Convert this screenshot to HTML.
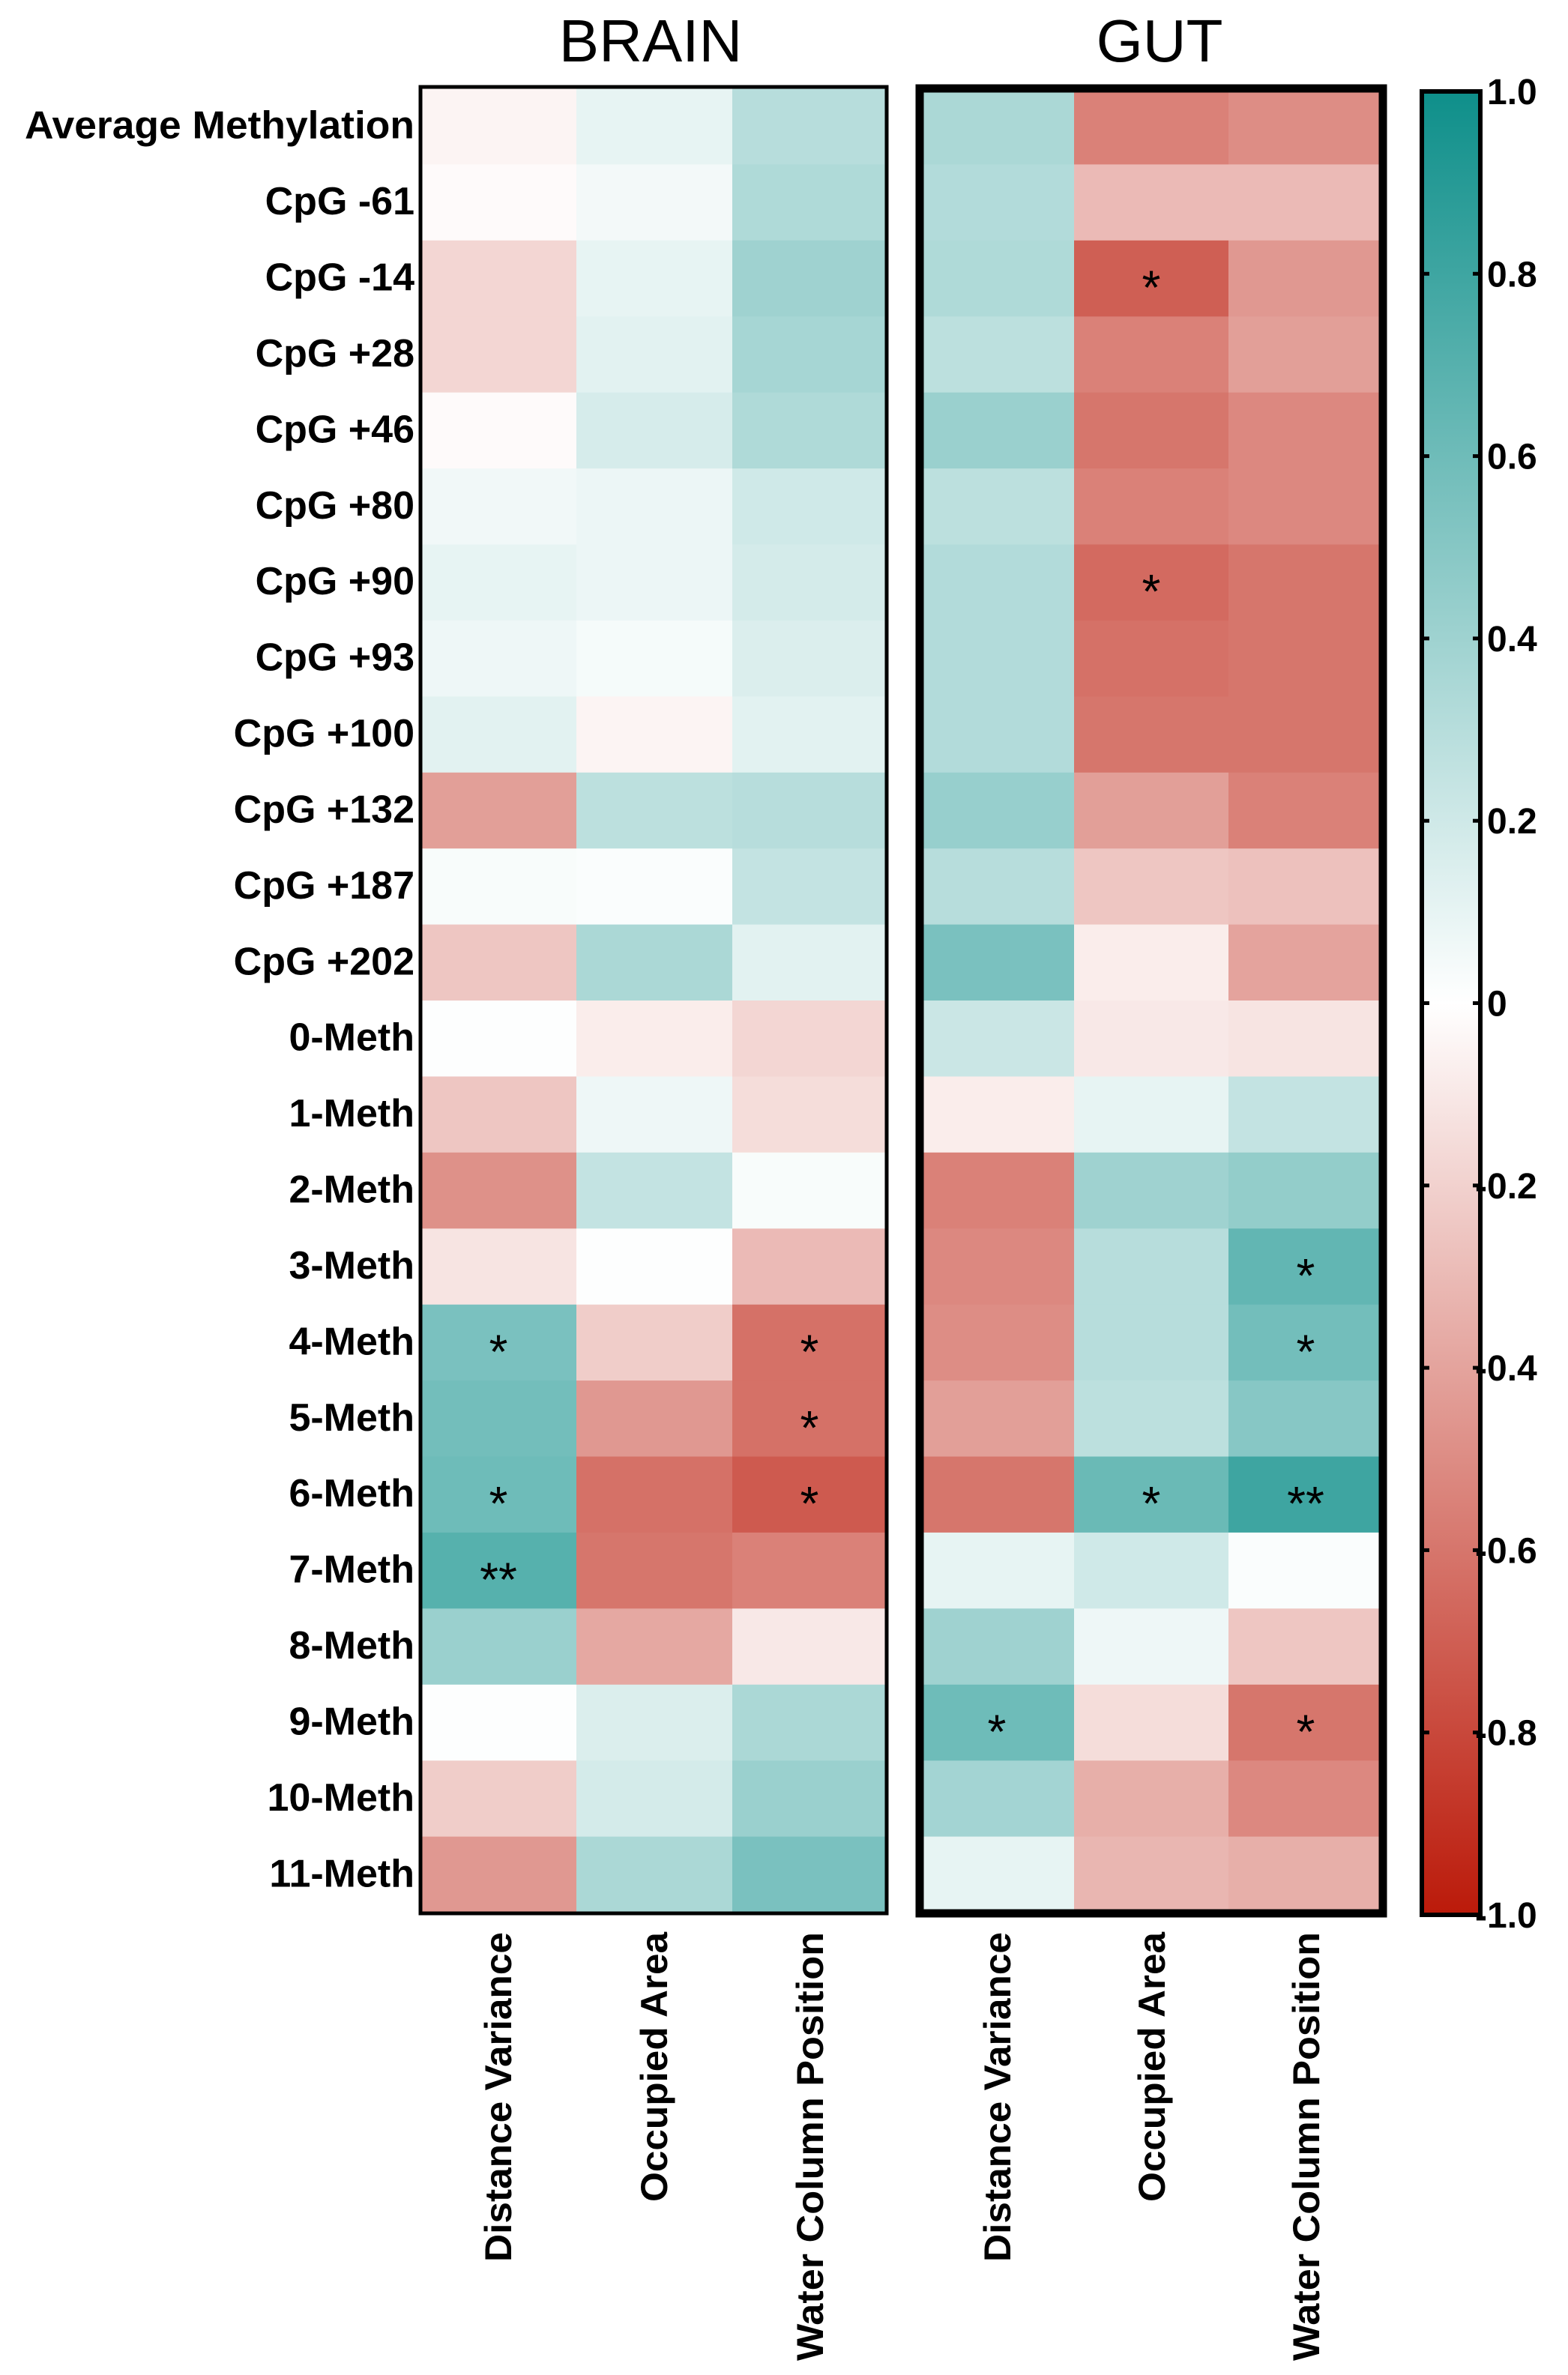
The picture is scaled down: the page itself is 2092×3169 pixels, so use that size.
<!DOCTYPE html>
<html><head><meta charset="utf-8"><style>
html,body{margin:0;padding:0;background:#fff;}
svg{display:block;}
text{font-family:"Liberation Sans",sans-serif;}
</style></head><body>
<svg id="s" width="2092" height="3169" xmlns="http://www.w3.org/2000/svg">
<defs><linearGradient id="cb" x1="0" y1="0" x2="0" y2="1">
<stop offset="0" stop-color="#0e8f8a"/><stop offset="0.5" stop-color="#ffffff"/><stop offset="1" stop-color="#bb1a0a"/></linearGradient></defs>
<text x="868" y="82" font-size="80" text-anchor="middle">BRAIN</text>
<text x="1547" y="82" font-size="80" text-anchor="middle">GUT</text>
<g id="cells"></g>
<rect x="561" y="116" width="622" height="2437" fill="none" stroke="#000" stroke-width="5"/>
<rect x="1227" y="118" width="618" height="2435" fill="none" stroke="#000" stroke-width="11"/>
<rect x="1897" y="122" width="78" height="2433" fill="url(#cb)" stroke="#000" stroke-width="6"/>
<g id="lab"></g>
</svg>
<script>
(function(){
var rows=["Average Methylation","CpG -61","CpG -14","CpG +28","CpG +46","CpG +80","CpG +90","CpG +93","CpG +100","CpG +132","CpG +187","CpG +202","0-Meth","1-Meth","2-Meth","3-Meth","4-Meth","5-Meth","6-Meth","7-Meth","8-Meth","9-Meth","10-Meth","11-Meth"];
var V=[[-0.05,0.1,0.3,0.35,-0.55,-0.5],[-0.02,0.05,0.33,0.32,-0.3,-0.3],[-0.18,0.1,0.4,0.33,-0.7,-0.45],[-0.18,0.12,0.37,0.28,-0.55,-0.42],[-0.02,0.17,0.33,0.42,-0.6,-0.52],[0.06,0.08,0.2,0.28,-0.55,-0.52],[0.1,0.08,0.18,0.32,-0.65,-0.6],[0.07,0.04,0.15,0.32,-0.62,-0.6],[0.12,-0.05,0.12,0.32,-0.6,-0.6],[-0.42,0.28,0.3,0.43,-0.42,-0.55],[0.03,0.02,0.25,0.3,-0.25,-0.27],[-0.25,0.35,0.12,0.55,-0.08,-0.4],[0.01,-0.08,-0.18,0.22,-0.1,-0.12],[-0.25,0.07,-0.15,-0.08,0.1,0.25],[-0.48,0.25,0.03,-0.55,0.4,0.45],[-0.12,0.01,-0.3,-0.52,0.3,0.65],[0.55,-0.22,-0.62,-0.5,0.3,0.58],[0.58,-0.45,-0.62,-0.42,0.28,0.5],[0.6,-0.62,-0.72,-0.6,0.62,0.8],[0.7,-0.6,-0.55,0.1,0.2,0.02],[0.42,-0.38,-0.1,0.4,0.07,-0.25],[0.01,0.15,0.35,0.6,-0.15,-0.6],[-0.22,0.18,0.42,0.38,-0.35,-0.52],[-0.45,0.35,0.55,0.1,-0.32,-0.35]];
var S={"2,4":"*","6,4":"*","15,5":"*","16,0":"*","16,2":"*","16,5":"*","17,2":"*","18,0":"*","18,2":"*","18,4":"*","18,5":"**","19,0":"**","21,3":"*","21,5":"*"};
function col(v){var t=v>=0?[14,143,138]:[187,26,10];var a=Math.abs(v);return "rgb("+[0,1,2].map(function(i){return Math.round(255+(t[i]-255)*a)}).join(",")+")";}
var T0=118,rh=(2552-118)/24,xs=[561,769,977,1227,1433,1639],cw=[208,208,206,206,206,206];
var h="";
for(var r=0;r<24;r++){for(var c=0;c<6;c++){var y=T0+r*rh;h+='<rect x="'+xs[c]+'" y="'+y.toFixed(1)+'" width="'+cw[c]+'" height="'+(rh+0.5).toFixed(1)+'" fill="'+col(V[r][c])+'"/>';
var k=S[r+","+c];if(k)h+='<text x="'+(xs[c]+cw[c]/2)+'" y="'+(y+rh/2+34).toFixed(1)+'" font-size="64" text-anchor="middle">'+k+'</text>';}}
document.getElementById("cells").innerHTML=h;
var l="";
for(var r=0;r<24;r++){var y=T0+r*rh+rh/2+16;var w=rows[r]=="Average Methylation"?' textLength="520" lengthAdjust="spacingAndGlyphs"':'';l+='<text x="553" y="'+y.toFixed(1)+'" font-size="52" font-weight="bold" text-anchor="end"'+w+'>'+rows[r]+'</text>';}
var cn=["Distance Variance","Occupied Area","Water Column Position"],cx=[664,872,1080,1330,1536,1742],lens=[440,360,572];
for(var c=0;c<6;c++){var n=c%3;l+='<text transform="translate('+(cx[c]+18)+',2578) rotate(-90)" font-size="50" font-weight="bold" text-anchor="end" textLength="'+lens[n]+'" lengthAdjust="spacingAndGlyphs">'+cn[n]+'</text>';}
var tv=["1.0","0.8","0.6","0.4","0.2","0","-0.2","-0.4","-0.6","-0.8","-1.0"];
for(var i=0;i<11;i++){var y=122+i*2433/10;var t=tv[i];
if(i>0&&i<10){l+='<line x1="1897" y1="'+y+'" x2="1907" y2="'+y+'" stroke="#000" stroke-width="5"/><line x1="1965" y1="'+y+'" x2="1975" y2="'+y+'" stroke="#000" stroke-width="5"/>';}
if(t[0]=="-"){l+='<text x="1984" y="'+(y+17)+'" font-size="48" font-weight="bold" text-anchor="end">-</text><text x="1984" y="'+(y+17)+'" font-size="48" font-weight="bold">'+t.slice(1)+'</text>';}
else l+='<text x="1984" y="'+(y+17)+'" font-size="48" font-weight="bold">'+t+'</text>';}
document.getElementById("lab").innerHTML=l;
})();
</script>
</body></html>
